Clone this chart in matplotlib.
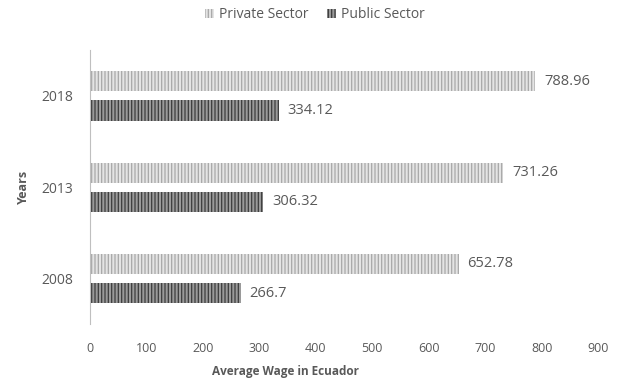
import matplotlib
matplotlib.use("Agg")
import matplotlib.pyplot as plt
import numpy as np

years = ["2008", "2013", "2018"]
private_sector = [652.78, 731.26, 788.96]
public_sector = [266.7, 306.32, 334.12]
x_ticks = [0, 100, 200, 300, 400, 500, 600, 700, 800, 900]

TEXT = "#595959"
plt.rcParams["font.family"] = ["Open Sans", "DejaVu Sans"]
plt.rcParams["hatch.linewidth"] = 0.9

fig = plt.figure(figsize=(6.27, 3.92), dpi=100)
# axes box in figure fractions: x 90..598 px, y 50..324 px
ax = fig.add_axes([0.1435, 0.173, 0.8105, 0.699])

pos = np.arange(len(years))
h = 0.22
off = 0.16
b1 = ax.barh(pos + off, private_sector, height=h, color="#e4e4e4",
             edgecolor="#a8a8a8", hatch="|||||", linewidth=0,
             label="Private Sector")
b2 = ax.barh(pos - off, public_sector, height=h, color="#9a9a9a",
             edgecolor="#3c3c3c", hatch="|||||", linewidth=0,
             label="Public Sector")

for bars, vals in ((b1, private_sector), (b2, public_sector)):
    for bar, v in zip(bars, vals):
        ax.text(v + 16, bar.get_y() + bar.get_height() / 2, f"{v:g}",
                va="center", ha="left", fontsize=10.5, color=TEXT)

ax.set_xlim(0, 900)
ax.set_ylim(-0.5, 2.5)
ax.set_xticks(x_ticks)
ax.set_yticks(pos)
ax.set_yticklabels(years)
ax.tick_params(axis="both", length=0, labelcolor=TEXT)
ax.tick_params(axis="x", labelsize=9, pad=13)
ax.tick_params(axis="y", labelsize=10, pad=12)
for side in ("top", "right", "bottom"):
    ax.spines[side].set_visible(False)
ax.spines["left"].set_color("#bfbfbf")

ax.set_xlabel("Average Wage in Ecuador", fontsize=8.5, fontweight="bold",
              color=TEXT)
ax.xaxis.set_label_coords(0.384, -0.15)
ax.set_ylabel("Years", fontsize=9, fontweight="bold", color=TEXT, labelpad=8)

fig.legend(loc="center", bbox_to_anchor=(0.502, 0.962), ncol=2, frameon=False,
           fontsize=10, labelcolor=TEXT, handlelength=0.7, handleheight=0.7,
           handletextpad=0.35, columnspacing=1.3)

fig.savefig("out.png", dpi=100)
